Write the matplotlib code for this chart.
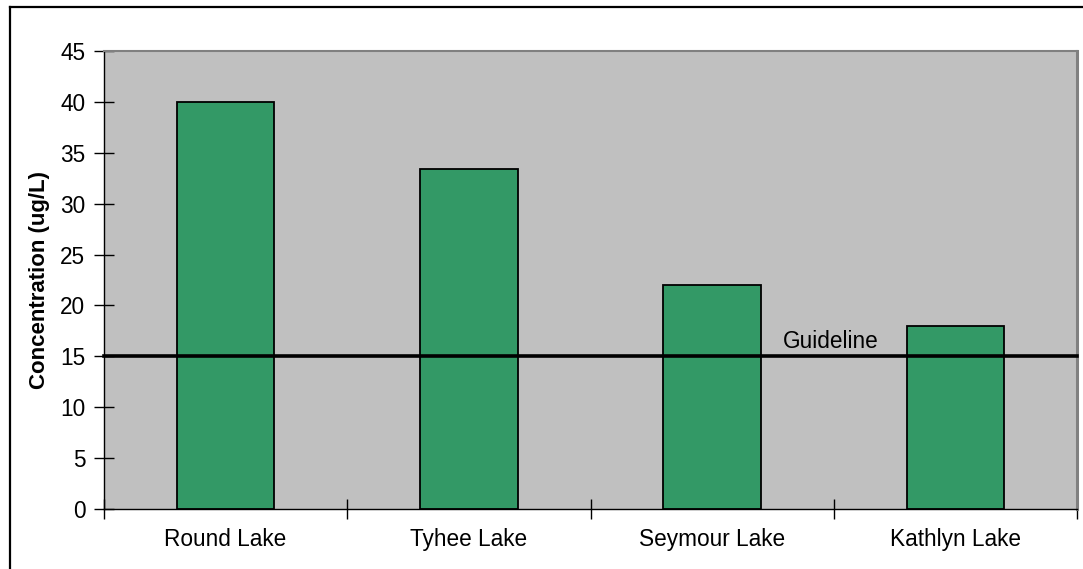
import matplotlib
matplotlib.use("Agg")
import matplotlib.pyplot as plt
from matplotlib.lines import Line2D

categories = ["Round Lake", "Tyhee Lake", "Seymour Lake", "Kathlyn Lake"]
values = [40.0, 33.4, 22.0, 18.0]
guideline = 15
yticks = [0, 5, 10, 15, 20, 25, 30, 35, 40, 45]

plt.rcParams['font.family'] = ['Liberation Sans', 'DejaVu Sans']
FS = 16.3

fig = plt.figure(figsize=(10.83, 5.69), dpi=100)
ax = fig.add_axes([104/1083, 1-509/569, 973/1083, 458/569])
ax.set_facecolor('#C0C0C0')

x = list(range(len(categories)))
ax.bar(x, values, width=0.40, color='#339966', edgecolor='black', linewidth=1.3, zorder=2)
ax.axhline(guideline, color='black', linewidth=2.6, zorder=3, clip_on=False)
ax.text(2.29, guideline + 1.5, "Guideline", fontsize=FS, ha='left', va='center', zorder=4)

ax.set_xlim(-0.5, 3.5)
ax.set_ylim(0, 45)
ax.set_yticks(yticks)
ax.set_yticklabels([str(t) for t in yticks], fontsize=FS)
ax.set_xticks(x)
ax.set_xticklabels(categories, fontsize=FS)
ax.tick_params(axis='x', length=0, pad=14)
ax.set_xticks([-0.5, 0.5, 1.5, 2.5, 3.5], minor=True)
ax.tick_params(axis='x', which='minor', length=15, width=1.0, direction='inout', color='black')
ax.tick_params(axis='y', length=14, width=1.0, direction='inout', color='black', pad=6.5)

ax.set_ylabel("Concentration (ug/L)", fontsize=FS - 0.3, fontweight='bold', labelpad=7)

ax.spines['top'].set_color('#808080')
ax.spines['top'].set_linewidth(1.5)
ax.spines['right'].set_color('#808080')
ax.spines['right'].set_linewidth(2.2)
for side in ['left', 'bottom']:
    ax.spines[side].set_color('black')
    ax.spines[side].set_linewidth(1.0)

# outer chart border (only top and left fall inside the image)
fig.add_artist(Line2D([9.5/1083, 1.0], [1-7/569, 1-7/569], transform=fig.transFigure,
                      color='black', linewidth=1.6))
fig.add_artist(Line2D([9.5/1083, 9.5/1083], [0.0, 1-7/569], transform=fig.transFigure,
                      color='black', linewidth=1.6))

fig.savefig("out.png", dpi=100)
